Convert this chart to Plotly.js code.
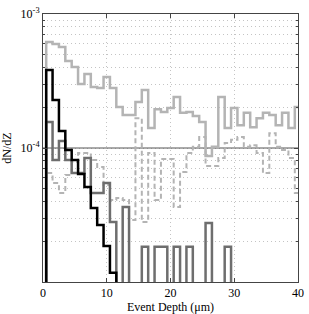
<!DOCTYPE html>
<html>
<head>
<meta charset="utf-8">
<script src="https://cdn.plot.ly/plotly-3.0.1.min.js"></script>
<style>
  html, body { margin: 0; padding: 0; background: #fff; }
  #chart { width: 309px; height: 314px; }
</style>
</head>
<body>
<div id="chart"></div>
<script>
// Bin centres (Event depth, µm); each bin is 1 µm wide
const depthBins = [1,2,3,4,5,6,7,8,9,10,11,12,13,14,15,16,17,18,19,20,
                   21,22,23,24,25,26,27,28,29,30,31,32,33,34,35,36,37,38,39,40];

// dN/dZ, light grey solid histogram
const lightSolid = [6.18e-4,5.97e-4,5.67e-4,4.46e-4,4.02e-4,3.00e-4,3.57e-4,2.85e-4,2.80e-4,3.39e-4,
                    2.80e-4,2.02e-4,1.76e-4,1.76e-4,2.20e-4,2.71e-4,1.41e-4,1.95e-4,1.86e-4,1.99e-4,
                    2.40e-4,1.83e-4,1.86e-4,1.73e-4,1.56e-4,8.72e-5,1.02e-4,2.40e-4,1.41e-4,1.99e-4,
                    1.48e-4,1.83e-4,1.43e-4,1.67e-4,1.83e-4,1.76e-4,1.48e-4,1.83e-4,1.41e-4,2.02e-4];

// dN/dZ, light grey dashed histogram
const lightDashed = [6.51e-5,5.48e-5,4.62e-5,6.29e-5,7.86e-5,9.18e-5,9.18e-5,8.13e-5,7.21e-5,5.30e-5,
                     4.09e-5,4.23e-5,4.09e-5,2.90e-5,1.67e-4,2.80e-5,9.18e-5,4.09e-5,8.28e-5,8.28e-5,
                     3.63e-5,6.62e-5,9.18e-5,1.02e-4,1.21e-4,7.34e-5,7.34e-5,8.42e-5,1.09e-4,1.15e-4,
                     1.21e-4,1.02e-4,1.05e-4,9.18e-5,6.51e-5,1.29e-4,1.02e-4,9.66e-5,8.42e-5,4.62e-5];

// dN/dZ, dark grey histogram (0 = empty bin)
const darkSolid = [1.56e-4,8.13e-5,1.13e-4,8.13e-5,6.51e-5,6.51e-5,8.42e-5,4.62e-5,4.62e-5,5.48e-5,
                   2.80e-5,0,3.63e-5,0,0,1.83e-5,0,1.83e-5,1.83e-5,0,
                   1.83e-5,0,1.83e-5,0,0,2.76e-5,0,0,1.83e-5,0,
                   0,0,0,0,0,0,0,0,0,0];

// dN/dZ, black histogram (0 = empty bin)
const blackSolid = [3.82e-4,2.28e-4,1.34e-4,9.66e-5,8.13e-5,6.40e-5,5.12e-5,3.57e-5,2.66e-5,1.86e-5,
                    1.17e-5,0,0,0,0,0,0,0,0,0,
                    0,0,0,0,0,0,0,0,0,0,
                    0,0,0,0,0,0,0,0,0,0];

const refLevel = 1e-4;
const xTicks = [0,10,20,30,40];
const yMajor = [1e-4,1e-3];
const yMajorText = ['10<sup>-4</sup>','10<sup>-3</sup>'];
const yMinor = [2e-5,3e-5,4e-5,5e-5,6e-5,7e-5,8e-5,9e-5,2e-4,3e-4,4e-4,5e-4,6e-4,7e-4,8e-4,9e-4];

const FLOOR = 1e-8; // empty bins are drawn below the visible range
const BIN_W = 1;

function stairs(vals) {
  const xs = [depthBins[0] - BIN_W/2];
  const ys = [FLOOR];
  for (let i = 0; i < depthBins.length; i++) {
    const v = vals[i] > 0 ? vals[i] : FLOOR;
    xs.push(depthBins[i] - BIN_W/2, depthBins[i] + BIN_W/2);
    ys.push(v, v);
  }
  return {x: xs, y: ys};
}

function trace(vals, color, width, dash) {
  const s = stairs(vals);
  return {
    type: 'scatter', mode: 'lines', x: s.x, y: s.y,
    line: {color: color, width: width, dash: dash || 'solid', shape: 'linear'},
    hoverinfo: 'skip', showlegend: false
  };
}

const data = [
  {type:'scatter', mode:'lines', x:[xTicks[0], xTicks[xTicks.length-1]], y:[refLevel, refLevel],
   line:{color:'#555555', width:1}, hoverinfo:'skip', showlegend:false},
  trace(lightDashed, '#b4b4b4', 2, '5px,3px'),
  trace(lightSolid, '#b4b4b4', 2.5),
  trace(darkSolid, '#6e6e6e', 2.5),
  trace(blackSolid, '#000000', 2.5)
];

const font = {family: '"Liberation Serif", "Times New Roman", serif', size: 12, color: '#000'};
const GRID = '#c4c4c4';
const GDASH = '1px,3px';

const layout = {
  width: 309, height: 314,
  margin: {l: 43, r: 10.5, t: 14, b: 32},
  paper_bgcolor: '#fff', plot_bgcolor: '#fff',
  font: font,
  showlegend: false,
  xaxis: {
    range: [0, 40], tickvals: xTicks, ticktext: xTicks.map(String),
    ticks: 'inside', ticklen: 4, tickcolor: '#444', tickwidth: 1,
    showline: true, linecolor: '#444', linewidth: 1, mirror: 'ticks',
    showgrid: true, gridcolor: GRID, griddash: GDASH, gridwidth: 1,
    zeroline: false, tickfont: font,
    title: {text: 'Event Depth (\u03bcm)', font: font, standoff: 4}
  },
  yaxis: {
    type: 'log', range: [-5, -3],
    tickmode: 'array', tickvals: yMajor, ticktext: yMajorText,
    ticks: 'inside', ticklen: 4, tickcolor: '#444', tickwidth: 1,
    showline: true, linecolor: '#444', linewidth: 1, mirror: 'ticks',
    showgrid: true, gridcolor: GRID, griddash: GDASH, gridwidth: 1,
    zeroline: false, tickfont: font,
    minor: {tickmode: 'array', tickvals: yMinor, ticks: 'inside', ticklen: 2,
            tickcolor: '#444', showgrid: true, gridcolor: GRID, griddash: GDASH, gridwidth: 1},
    title: {text: 'dN/dZ', font: font, standoff: 6}
  }
};

Plotly.newPlot('chart', data, layout, {staticPlot: true, displayModeBar: false});
</script>
</body>
</html>
